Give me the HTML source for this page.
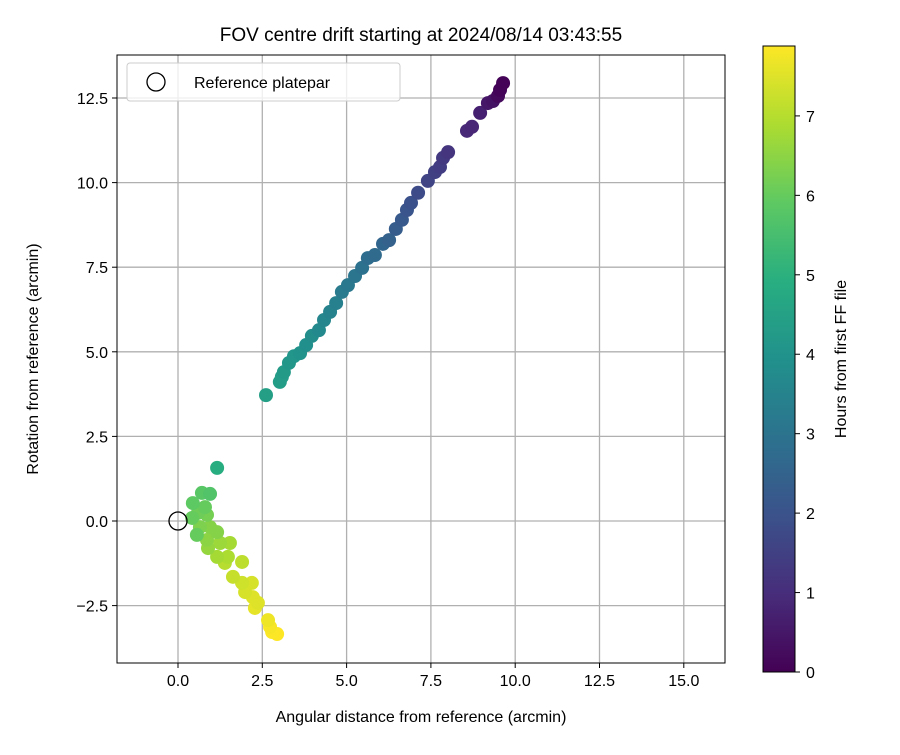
<!DOCTYPE html>
<html><head><meta charset="utf-8"><style>
body{margin:0;background:#fff;}
text{font-family:"Liberation Sans","DejaVu Sans",sans-serif;fill:#000;}
</style></head><body>
<svg id="chart" width="900" height="750" xmlns="http://www.w3.org/2000/svg">
<rect width="900" height="750" fill="#fff"/>
<text x="421" y="41" font-size="19" text-anchor="middle">FOV centre drift starting at 2024/08/14 03:43:55</text>
<g id="grid"></g>
<g id="axes"></g>
<g id="points"></g>
<circle id="refmark" r="9" fill="none" stroke="#000" stroke-width="1.3"/>
<rect x="117" y="55" width="608" height="608" fill="none" stroke="#000" stroke-width="1"/>
<g>
<rect x="127" y="63" width="273" height="38" rx="3" fill="#fff" fill-opacity="0.8" stroke="#ccc"/>
<circle cx="156" cy="82" r="9" fill="none" stroke="#000" stroke-width="1.3"/>
<text x="194" y="88" font-size="16">Reference platepar</text>
</g>
<text x="421" y="722" font-size="16" text-anchor="middle">Angular distance from reference (arcmin)</text>
<text transform="translate(38,359) rotate(-90)" font-size="16" text-anchor="middle">Rotation from reference (arcmin)</text>
<defs><linearGradient id="vir" x1="0" y1="1" x2="0" y2="0">
<stop offset="0" stop-color="#440154"/><stop offset="0.125" stop-color="#472d7b"/><stop offset="0.25" stop-color="#3b528b"/><stop offset="0.375" stop-color="#2c728e"/><stop offset="0.5" stop-color="#21918c"/><stop offset="0.625" stop-color="#28ae80"/><stop offset="0.75" stop-color="#5ec962"/><stop offset="0.875" stop-color="#addc30"/><stop offset="1" stop-color="#fde725"/>
</linearGradient></defs>
<rect x="763" y="46" width="32" height="626" fill="url(#vir)" stroke="#000" stroke-width="1"/>
<g id="cbticks"></g>
<text transform="translate(846,359) rotate(-90)" font-size="16" text-anchor="middle">Hours from first FF file</text>
</svg>
<script>
const xs=[9.64,9.55,9.49,9.34,9.19,8.96,8.72,8.57,8.01,7.86,7.77,7.62,7.41,7.12,6.91,6.79,6.64,6.46,6.26,6.08,5.84,5.63,5.46,5.25,5.04,4.86,4.69,4.51,4.33,4.18,3.97,3.80,3.62,3.44,3.29,3.14,3.08,3.02,2.61,
1.16,0.95,0.71,0.44,0.80,0.42,0.59,0.86,0.56,0.65,0.95,1.16,0.86,0.89,1.25,1.54,1.16,1.48,1.39,1.90,1.63,1.90,2.19,1.99,2.22,2.37,2.28,2.67,2.73,2.79,2.94];
const ys=[12.94,12.74,12.56,12.41,12.35,12.06,11.65,11.53,10.90,10.73,10.46,10.31,10.05,9.70,9.40,9.19,8.90,8.63,8.30,8.19,7.86,7.77,7.48,7.24,6.97,6.77,6.44,6.18,5.94,5.64,5.47,5.20,4.96,4.87,4.67,4.40,4.26,4.11,3.72,
1.57,0.80,0.83,0.53,0.41,0.09,0.24,0.18,-0.41,-0.18,-0.18,-0.33,-0.56,-0.80,-0.65,-0.65,-1.06,-1.06,-1.24,-1.21,-1.65,-1.83,-1.83,-2.10,-2.25,-2.42,-2.57,-2.93,-3.13,-3.28,-3.34];
const hours=[0.05,0.1,0.2,0.4,0.5,0.7,0.85,0.9,1.2,1.3,1.4,1.5,1.6,1.8,1.95,2.05,2.2,2.3,2.45,2.55,2.7,2.8,2.95,3.05,3.15,3.25,3.4,3.5,3.6,3.7,3.8,3.9,4.0,4.1,4.15,4.25,4.3,4.35,4.4,
4.9,5.7,5.8,5.9,6.0,6.0,6.1,6.2,6.0,6.3,6.4,6.4,6.5,6.6,6.7,6.8,6.8,6.9,7.0,7.1,7.2,7.3,7.4,7.4,7.5,7.5,7.6,7.7,7.8,7.85,7.9];
const xTicks=[0,2.5,5,7.5,10,12.5,15];
const yTicks=[-2.5,0,2.5,5,7.5,10,12.5];
const cTicks=[0,1,2,3,4,5,6,7];
const cMax=7.88;
const X=v=>178+v*33.72, Y=v=>521-v*33.84, C=v=>672-v*(626/cMax);
const NS="http://www.w3.org/2000/svg";
function mk(tag,attrs,parent,txt){const e=document.createElementNS(NS,tag);for(const k in attrs)e.setAttribute(k,attrs[k]);if(txt!==undefined)e.textContent=txt;parent.appendChild(e);return e;}
const vir=[[68,1,84],[71,45,123],[59,82,139],[44,114,142],[33,145,140],[40,174,128],[94,201,98],[173,220,48],[253,231,37]];
function col(t){let f=Math.max(0,Math.min(1,t/cMax))*8;let i=Math.min(7,Math.floor(f)),r=f-i;const a=vir[i],b=vir[i+1];return `rgb(${a.map((v,k)=>Math.round(v+(b[k]-v)*r)).join(',')})`;}
const g=document.getElementById('grid'),ax=document.getElementById('axes'),pt=document.getElementById('points'),cb=document.getElementById('cbticks');
xTicks.forEach(v=>{const x=X(v);
const l=mk('line',{x1:x,x2:x,y1:55,y2:663,stroke:'#b0b0b0','stroke-width':1.3},g);
mk('line',{x1:x,x2:x,y1:663,y2:668,stroke:'#000'},ax);
const t=mk('text',{x:x,y:686,'font-size':16,'text-anchor':'middle'},ax,v.toFixed(1));});
yTicks.forEach(v=>{const y=Y(v);
const l=mk('line',{x1:117,x2:725,y1:y,y2:y,stroke:'#b0b0b0','stroke-width':1.3},g);
mk('line',{x1:112,x2:117,y1:y,y2:y,stroke:'#000'},ax);
const t=mk('text',{x:108,y:y+6,'font-size':16,'text-anchor':'end'},ax,(v<0?'\u2212'+(-v).toFixed(1):v.toFixed(1)));});
const order=hours.map((h,i)=>i).sort((a,b)=>hours[b]-hours[a]);
order.forEach(i=>{const c=mk('circle',{cx:X(xs[i]),cy:Y(ys[i]),r:7,fill:col(hours[i])},pt);

});
const rm=document.getElementById('refmark');rm.setAttribute('cx',X(0));rm.setAttribute('cy',Y(0));
cTicks.forEach(v=>{const y=C(v);mk('line',{x1:795,x2:800,y1:y,y2:y,stroke:'#000'},cb);
const t=mk('text',{x:806,y:y+6,'font-size':16},cb,String(v));});
</script>
</body></html>
